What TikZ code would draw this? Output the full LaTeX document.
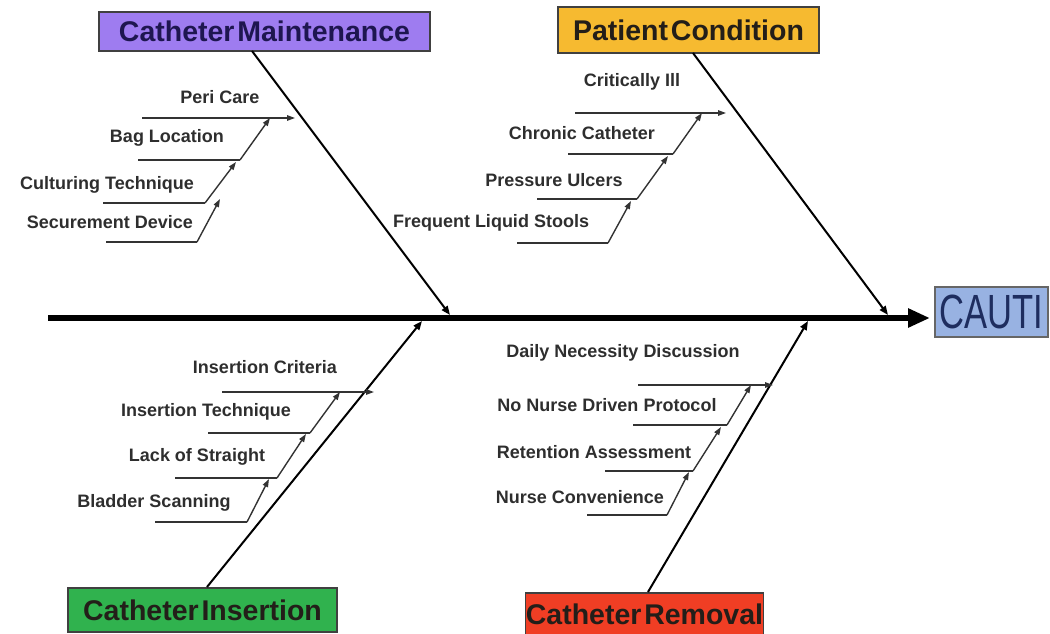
\documentclass[tikz,border=0pt]{standalone}
\usepackage{fontspec}
\setmainfont{Liberation Sans}
\newfontfamily\cautifont[FakeStretch=0.72]{Liberation Sans}
\usetikzlibrary{arrows.meta}
\definecolor{cmfill}{RGB}{158,124,240}
\definecolor{pcfill}{RGB}{246,186,48}
\definecolor{cifill}{RGB}{48,178,78}
\definecolor{crfill}{RGB}{240,62,36}
\definecolor{cautifill}{RGB}{152,178,226}
\definecolor{cautitext}{RGB}{30,45,95}
\definecolor{cmtext}{RGB}{30,22,80}
\definecolor{darktext}{RGB}{35,30,25}
\newcommand{\tsp}{\hspace{0.1em}}
\begin{document}
\begin{tikzpicture}[x=1pt,y=-1pt,
  cat/.style={draw=black!75,line width=1.2pt,inner sep=0pt,text=darktext,
    font=\fontsize{28.5}{30}\selectfont\bfseries},
  lbl/.style={font=\fontsize{18}{20}\selectfont\bfseries,text=black!82,inner sep=0pt},
  bone/.style={line width=2pt,-{Triangle[length=9pt,width=7pt]}},
  sub/.style={line width=1.4pt,draw=black!80},
  subarr/.style={sub,-{Triangle[length=8pt,width=5.5pt]}}]
\useasboundingbox (0,0) rectangle (1050,634);

% boxes
\node[cat,fill=cmfill,text=cmtext,minimum width=331pt,minimum height=39pt] (cm) at (264.5,31.5) {Catheter\tsp Maintenance};
\node[cat,fill=pcfill,minimum width=261pt,minimum height=46pt] (pc) at (688.5,30) {Patient\tsp Condition};
\node[cat,fill=cifill,minimum width=269pt,minimum height=44pt] (ci) at (202.5,610) {Catheter\tsp Insertion};
\node[cat,fill=crfill,minimum width=235pt,minimum height=42pt] (cr) at (644.5,614) {Catheter\tsp Removal};
\node[draw=black!60,line width=1.2pt,fill=cautifill,text=cautitext,inner sep=0pt,
  minimum width=113pt,minimum height=50pt,font=\cautifont\fontsize{48}{50}\selectfont] (cauti) at (991.5,312) {CAUTI};

% spine
\coordinate (s0) at (48,318);
\coordinate (s1) at (930,318);
\draw[line width=6pt,-{Triangle[length=22pt,width=18pt]}] (s0) -- (s1);

% main bones
\coordinate (cmTop) at (252,51);   \coordinate (cmJ) at (450,315);
\coordinate (pcTop) at (693,53);   \coordinate (pcJ) at (888,315);
\coordinate (ciBot) at (207,587);  \coordinate (ciJ) at (422,321);
\coordinate (crBot) at (648,592);  \coordinate (crJ) at (808,321);
\draw[bone] (cmTop) -- (cmJ);
\draw[bone] (pcTop) -- (pcJ);
\draw[bone] (ciBot) -- (ciJ);
\draw[bone] (crBot) -- (crJ);

% ---- Catheter Maintenance causes
\node[lbl] (peri) at (220,97) {Peri Care};
\node[lbl] (bag) at (167,138) {Bag Location};
\node[lbl] (cult) at (107,185) {Culturing Technique};
\node[lbl] (secu) at (110,222) {Securement Device};
\coordinate (a1) at (142,118); \coordinate (a1e) at (270,118); \coordinate (a1t) at (295,118);
\coordinate (a2) at (138,160); \coordinate (a2e) at (240,160);
\coordinate (a3) at (103,203); \coordinate (a3e) at (205,203); \coordinate (a3t) at (236,162);
\coordinate (a4) at (106,242); \coordinate (a4e) at (197,242); \coordinate (a4t) at (220,199);
\draw[subarr] (a1) -- (a1t);
\draw[sub] (a2) -- (a2e); \draw[subarr] (a2e) -- (a1e);
\draw[sub] (a3) -- (a3e); \draw[subarr] (a3e) -- (a3t);
\draw[sub] (a4) -- (a4e); \draw[subarr] (a4e) -- (a4t);

% ---- Patient Condition causes
\node[lbl] (crit) at (632,82) {Critically Ill};
\node[lbl] (chron) at (582,133) {Chronic Catheter};
\node[lbl] (press) at (554,180) {Pressure Ulcers};
\node[lbl] (freq) at (491,223) {Frequent Liquid Stools};
\coordinate (b1) at (575,113); \coordinate (b1e) at (702,113); \coordinate (b1t) at (726,113);
\coordinate (b2) at (568,154); \coordinate (b2e) at (673,154);
\coordinate (b3) at (537,199); \coordinate (b3e) at (637,199); \coordinate (b3t) at (668,156);
\coordinate (b4) at (517,243); \coordinate (b4e) at (608,243); \coordinate (b4t) at (631,201);
\draw[subarr] (b1) -- (b1t);
\draw[sub] (b2) -- (b2e); \draw[subarr] (b2e) -- (b1e);
\draw[sub] (b3) -- (b3e); \draw[subarr] (b3e) -- (b3t);
\draw[sub] (b4) -- (b4e); \draw[subarr] (b4e) -- (b4t);

% ---- Catheter Insertion causes
\node[lbl] (icrit) at (265,367) {Insertion Criteria};
\node[lbl] (itech) at (206,412) {Insertion Technique};
\node[lbl] (lack) at (197,457) {Lack of Straight};
\node[lbl] (blad) at (154,503) {Bladder Scanning};
\coordinate (c1) at (222,392); \coordinate (c1e) at (340,392); \coordinate (c1t) at (374,392);
\coordinate (c2) at (208,433); \coordinate (c2e) at (310,433);
\coordinate (c3) at (175,478); \coordinate (c3e) at (277,478); \coordinate (c3t) at (306,434);
\coordinate (c4) at (155,522); \coordinate (c4e) at (247,522); \coordinate (c4t) at (269,479);
\draw[subarr] (c1) -- (c1t);
\draw[sub] (c2) -- (c2e); \draw[subarr] (c2e) -- (c1e);
\draw[sub] (c3) -- (c3e); \draw[subarr] (c3e) -- (c3t);
\draw[sub] (c4) -- (c4e); \draw[subarr] (c4e) -- (c4t);

% ---- Catheter Removal causes
\node[lbl] (daily) at (623,353) {Daily Necessity Discussion};
\node[lbl] (nurse) at (607,405) {No Nurse Driven Protocol};
\node[lbl] (reten) at (594,452) {Retention Assessment};
\node[lbl] (conv) at (580,497) {Nurse Convenience};
\coordinate (d1) at (638,385); \coordinate (d1e) at (751,385); \coordinate (d1t) at (773,385);
\coordinate (d2) at (633,425); \coordinate (d2e) at (727,425);
\coordinate (d3) at (605,471); \coordinate (d3e) at (693,471); \coordinate (d3t) at (721,427);
\coordinate (d4) at (587,515); \coordinate (d4e) at (667,515); \coordinate (d4t) at (689,472);
\draw[subarr] (d1) -- (d1t);
\draw[sub] (d2) -- (d2e); \draw[subarr] (d2e) -- (d1e);
\draw[sub] (d3) -- (d3e); \draw[subarr] (d3e) -- (d3t);
\draw[sub] (d4) -- (d4e); \draw[subarr] (d4e) -- (d4t);
\end{tikzpicture}
\end{document}
